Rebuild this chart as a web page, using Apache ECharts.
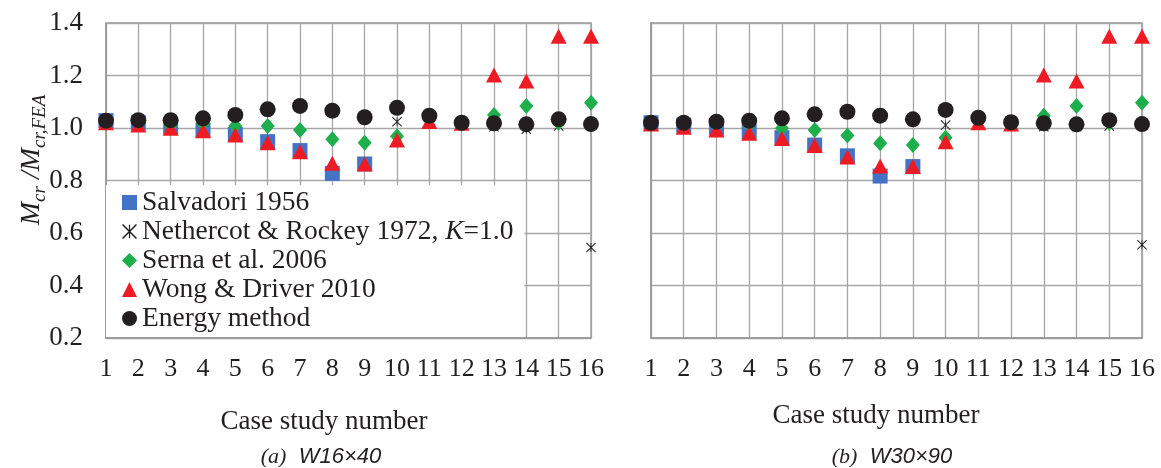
<!DOCTYPE html>
<html>
<head>
<meta charset="utf-8">
<script src="https://cdn.jsdelivr.net/npm/echarts@6/dist/echarts.min.js"></script>
<style>
html,body{margin:0;padding:0;background:#fff;}
#chart{width:1161px;height:468px;}
</style>
</head>
<body>
<div id="chart"></div>
<script>
// ---- data ----
const caseNumbers = [1,2,3,4,5,6,7,8,9,10,11,12,13,14,15,16];
const seriesNames = ['Salvadori 1956','Nethercot & Rockey 1972, K=1.0','Serna et al. 2006','Wong & Driver 2010','Energy method'];
const yTicks = [0.2,0.4,0.6,0.8,1.0,1.2,1.4];

// (a) W16x40
const leftSalvadori = [1.028,1.020,1.005,0.992,0.976,0.948,0.914,0.827,0.863,null,null,null,null,null,null,null];
const leftNethercot = [1.025,1.028,1.028,1.035,1.048,1.068,1.082,1.064,1.040,1.024,1.045,1.018,1.005,0.995,1.008,0.545];
const leftSerna     = [1.020,1.020,1.010,1.015,1.008,1.008,0.992,0.957,0.944,0.969,1.030,1.015,1.050,1.084,1.020,1.096];
const leftWong      = [1.020,1.011,0.999,0.990,0.973,0.944,0.910,0.866,0.863,0.954,1.025,1.018,1.202,1.179,1.350,1.350];
const leftEnergy    = [1.028,1.030,1.030,1.037,1.050,1.071,1.084,1.066,1.041,1.077,1.047,1.020,1.018,1.014,1.033,1.015];

// (b) W30x90
const rightSalvadori = [1.020,1.011,0.999,0.986,0.963,0.935,0.894,0.817,0.853,null,null,null,null,null,null,null];
const rightNethercot = [1.018,1.018,1.022,1.026,1.035,1.050,1.060,1.045,1.030,1.011,1.037,1.020,1.005,1.005,1.008,0.555];
const rightSerna     = [1.015,1.015,1.010,1.011,0.999,0.992,0.971,0.942,0.935,0.963,1.030,1.015,1.047,1.084,1.020,1.096];
const rightWong      = [1.015,1.003,0.992,0.980,0.960,0.933,0.890,0.855,0.853,0.948,1.020,1.015,1.202,1.179,1.350,1.350];
const rightEnergy    = [1.020,1.020,1.024,1.028,1.037,1.052,1.062,1.047,1.033,1.069,1.039,1.022,1.018,1.014,1.030,1.015];

// ---- styling ----
const SERIF = '"Liberation Serif","Times New Roman",serif';
const SANS = '"Liberation Sans",Arial,sans-serif';
const TXT = '#231F20';
const GRIDC = '#A6A6A6';
const STAR = 'path://M0.7,0L10,9.3L9.3,10L0,0.7ZM9.3,0L10,0.7L0.7,10L0,9.3ZM4.6,0.5L5.4,0.5L5.4,9.5L4.6,9.5Z';
const styles = [
  {symbol:'rect', size:15, color:'#4472C4'},
  {symbol:STAR, size:10, color:'#231F20'},
  {symbol:'diamond', size:[14,16], color:'#1DAF4B'},
  {symbol:'triangle', size:[16,15], color:'#ED1C24'},
  {symbol:'circle', size:16, color:'#231F20'}
];

function pairs(vals){ return caseNumbers.map((c,i)=>[c, vals[i]]).filter(p=>p[1]!==null); }

function xAxisCfg(idx){
  return {
    type:'value', gridIndex:idx, min:1, max:16, interval:1,
    axisLine:{show:true, lineStyle:{color:'#999', width:1.5}},
    axisTick:{show:false},
    axisLabel:{show:true, fontFamily:SERIF, fontSize:26, color:TXT, margin:18},
    splitLine:{show:true, lineStyle:{color:GRIDC, width:1.3}}
  };
}
function yAxisCfg(idx, labels){
  return {
    type:'value', gridIndex:idx, min:0.2, max:1.4, interval:0.2,
    axisLine:{show:true, lineStyle:{color:'#999', width:1.5}},
    axisTick:{show:false},
    axisLabel:{show:labels, fontFamily:SERIF, fontSize:27, color:TXT, margin:23,
      formatter:v=>v.toFixed(1)},
    splitLine:{show:true, lineStyle:{color:GRIDC, width:1.3}}
  };
}

const leftData = [leftSalvadori, leftNethercot, leftSerna, leftWong, leftEnergy];
const rightData = [rightSalvadori, rightNethercot, rightSerna, rightWong, rightEnergy];
const series = [];
[leftData, rightData].forEach((set, gi)=>{
  set.forEach((vals, si)=>{
    const st = styles[si];
    series.push({
      name: seriesNames[si], type:'scatter', xAxisIndex:gi, yAxisIndex:gi,
      symbol: st.symbol, symbolSize: st.size,
      itemStyle:{color: st.color, opacity:1},
      z: 2 + si*0.1,
      data: pairs(vals)
    });
  });
});

const chart = echarts.init(document.getElementById('chart'), null, {renderer:'canvas'});
chart.setOption({
  animation:false,
  backgroundColor:'#fff',
  grid:[
    {left:106, top:23, width:485, height:315, show:true, borderColor:'#999', borderWidth:1.5, backgroundColor:'transparent'},
    {left:651, top:23, width:491, height:315, show:true, borderColor:'#999', borderWidth:1.5, backgroundColor:'transparent'}
  ],
  xAxis:[xAxisCfg(0), xAxisCfg(1)],
  yAxis:[yAxisCfg(0,true), yAxisCfg(1,false)],
  legend:{
    orient:'vertical', left:106, top:185,
    backgroundColor:'#fff', padding:[3,11,4,16], itemGap:0,
    itemWidth:15, itemHeight:15, selectedMode:false,
    data: seriesNames.map((n,i)=>({name:n, icon: styles[i].symbol, itemStyle:{color:styles[i].color}})),
    textStyle:{fontFamily:SERIF, fontSize:27.5, lineHeight:29, color:TXT,
      rich:{i:{fontFamily:SERIF, fontSize:27.5, lineHeight:29, fontStyle:'italic', color:TXT}}},
    formatter: n => n === seriesNames[1] ? 'Nethercot & Rockey 1972, {i|K}=1.0' : n
  },
  graphic:[
    {type:'text', x:32, y:160, rotation:Math.PI/2,
      style:{text:'{m|M}{s|cr}{m| /M}{s|cr,FEA}', align:'center', verticalAlign:'middle', fill:TXT,
        rich:{
          m:{fontFamily:SERIF, fontStyle:'italic', fontSize:28, lineHeight:34, verticalAlign:'middle', fill:TXT},
          s:{fontFamily:SERIF, fontStyle:'italic', fontSize:19, lineHeight:19, verticalAlign:'bottom', fill:TXT}
        }}},
    {type:'text', x:324, y:422,
      style:{text:'Case study number', font:'27px '+SERIF, fill:TXT, align:'center', verticalAlign:'middle'}},
    {type:'text', x:876, y:416,
      style:{text:'Case study number', font:'27px '+SERIF, fill:TXT, align:'center', verticalAlign:'middle'}},
    {type:'text', x:321, y:457,
      style:{text:'{a|(a)}{w|  W16×40}', align:'center', verticalAlign:'middle', fill:TXT,
        rich:{a:{fontFamily:SERIF, fontStyle:'italic', fontSize:22, fill:TXT}, w:{fontFamily:SANS, fontStyle:'italic', fontSize:22, fill:TXT}}}},
    {type:'text', x:892, y:457,
      style:{text:'{a|(b)}{w|  W30×90}', align:'center', verticalAlign:'middle', fill:TXT,
        rich:{a:{fontFamily:SERIF, fontStyle:'italic', fontSize:22, fill:TXT}, w:{fontFamily:SANS, fontStyle:'italic', fontSize:22, fill:TXT}}}}
  ],
  series: series
});
</script>
</body>
</html>
